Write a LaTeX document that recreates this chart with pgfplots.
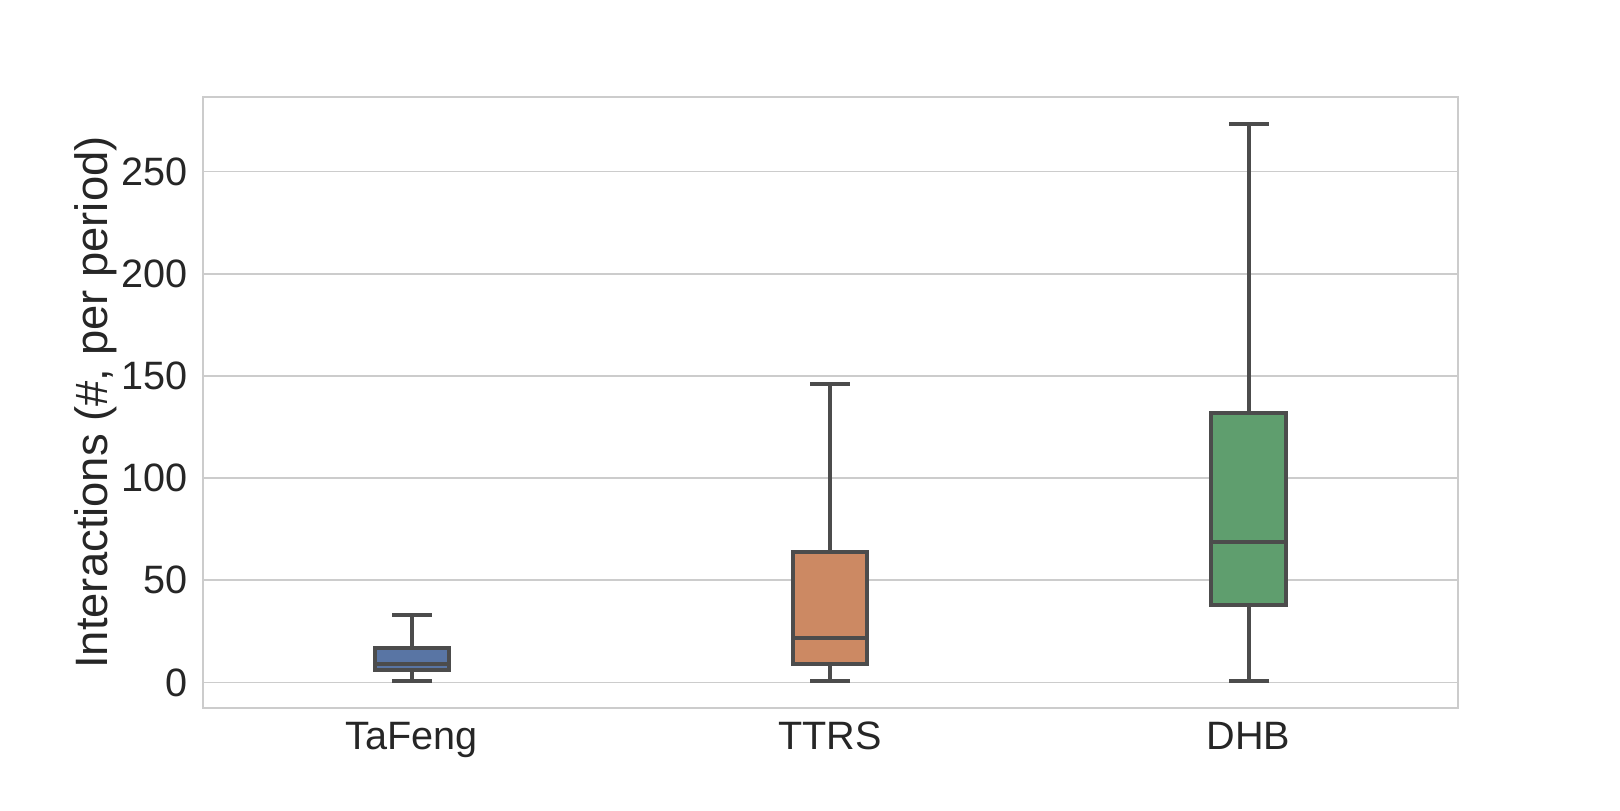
\documentclass[border=0pt]{standalone}
\usepackage{pgfplots}
\pgfplotsset{compat=1.18}
\usepackage{fontspec}
\setmainfont{Liberation Sans}
\definecolor{cblue}{HTML}{5975A4}
\definecolor{corange}{HTML}{CC8963}
\definecolor{cgreen}{HTML}{5F9E6E}
\definecolor{cline}{HTML}{4C4C4C}
\definecolor{cgrid}{HTML}{CCCCCC}
\definecolor{ctext}{HTML}{262626}
\tikzset{bx/.style={draw=cline, line width=2pt, solid, mark=none, line join=miter},
         wh/.style={draw=cline, line width=2pt, solid, mark=none, line cap=rect}}
\begin{document}
\begin{tikzpicture}
\path[use as bounding box] (-101.35pt,-50.85pt) rectangle (708.65pt,354.15pt);
\begin{axis}[
  at={(0,0)}, anchor=south west,
  scale only axis, width=627.5pt, height=305.8pt,
  xmin=-0.5, xmax=2.5, ymin=-12.6, ymax=286.6,
  xtick={0,1,2}, xticklabels={TaFeng,TTRS,DHB},
  ytick={0,50,100,150,200,250},
  tick style={draw=none},
  ymajorgrids, grid style={cgrid, line width=0.9pt},
  axis line style={cgrid, line width=1pt},
  tick label style={font=\fontsize{19.8}{24}\selectfont, text=ctext},
  /pgf/number format/assume math mode=true,
  xticklabel style={anchor=north, inner sep=0pt, yshift=-6.7pt},
  yticklabel style={anchor=east, inner sep=0pt, xshift=-7.2pt},
  ylabel={Interactions (\#, per period)},
  ylabel style={at={(axis description cs:-0.0757,0.5)}, anchor=base, font=\fontsize{22.7}{27}\selectfont, text=ctext},
]
% TaFeng: whiskers 1 / 33, quartiles 6 / 17, median 9
\addplot[bx, fill=cblue] coordinates {(-0.089,6) (0.089,6) (0.089,17) (-0.089,17)} -- cycle;
\addplot[wh] coordinates {(-0.089,9) (0.089,9)};
\addplot[wh] coordinates {(0,6) (0,1)};
\addplot[wh] coordinates {(0,17) (0,33)};
\addplot[wh] coordinates {(-0.043,1) (0.043,1)};
\addplot[wh] coordinates {(-0.043,33) (0.043,33)};
% TTRS: whiskers 1 / 146, quartiles 9 / 64, median 22
\addplot[bx, fill=corange] coordinates {(0.911,9) (1.089,9) (1.089,64) (0.911,64)} -- cycle;
\addplot[wh] coordinates {(0.911,22) (1.089,22)};
\addplot[wh] coordinates {(1,9) (1,1)};
\addplot[wh] coordinates {(1,64) (1,146)};
\addplot[wh] coordinates {(0.957,1) (1.043,1)};
\addplot[wh] coordinates {(0.957,146) (1.043,146)};
% DHB: whiskers 1 / 273, quartiles 38 / 132, median 69
\addplot[bx, fill=cgreen] coordinates {(1.911,38) (2.089,38) (2.089,132) (1.911,132)} -- cycle;
\addplot[wh] coordinates {(1.911,69) (2.089,69)};
\addplot[wh] coordinates {(2,38) (2,1)};
\addplot[wh] coordinates {(2,132) (2,273)};
\addplot[wh] coordinates {(1.957,1) (2.043,1)};
\addplot[wh] coordinates {(1.957,273) (2.043,273)};
\end{axis}
\end{tikzpicture}
\end{document}
